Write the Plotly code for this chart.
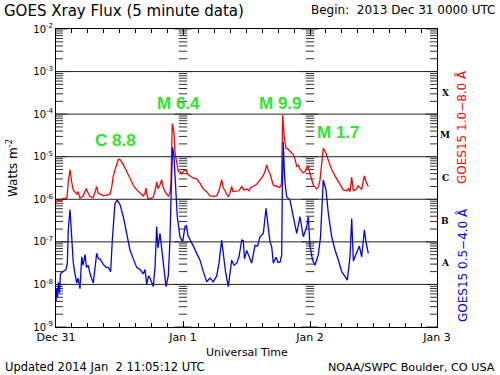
import numpy as np
import plotly.graph_objects as go

# ---- data (hours since 2013-12-31 00:00 UTC, log10 flux W m^-2) ----
long_hours = [0, 0.38, 0.94, 1.32, 1.70, 2.08, 2.32, 2.65, 2.97, 3.27, 3.91, 4.16, 4.54, 5.10, 5.67, 6.05,
              6.43, 7.05, 7.69, 7.94, 8.31, 8.94, 9.58, 10.2, 10.5, 10.83, 11.15, 11.47, 11.77, 12.09, 12.42,
              12.85, 13.36, 13.98, 14.31, 14.74, 15.25, 15.87, 16.50, 16.82, 17.0, 17.2, 17.44, 17.95, 18.39,
              18.71, 19.03, 19.27, 19.65, 19.97, 20.22, 20.60, 21.22, 21.54, 21.73, 21.86, 21.98, 22.11, 22.30,
              22.49, 22.77, 23.11, 23.43, 23.75, 24.19, 24.57, 24.94, 25.32, 25.89, 26.59, 27.21, 27.84, 28.48,
              29.10, 29.72, 30.37, 30.80, 31.31, 31.56, 31.94, 32.56, 32.88, 33.20, 33.45, 34.15, 34.58, 35.09,
              35.53, 36.04, 36.47, 36.85, 37.29, 37.80, 38.55, 39.12, 39.50, 39.82, 40.06, 40.44, 41.07, 41.71,
              42.33, 42.61, 42.71, 42.84, 42.99, 43.14, 43.46, 43.84, 44.22, 44.84, 45.16, 45.49, 45.83, 46.11,
              46.73, 47.06, 47.38, 47.68, 48.00, 48.63, 49.27, 49.61, 49.89, 50.21, 50.51, 50.74, 51.02, 51.46,
              51.78, 52.10, 52.72, 53.20, 53.67, 54.30, 54.94, 55.28, 55.56, 55.88, 56.19, 56.83, 57.07, 57.32,
              57.77, 58.02, 58.27, 58.58, 59.02]
long_log = [-6.07, -6.02, -6.05, -5.98, -5.99, -5.95, -5.6, -5.30, -5.6, -5.78, -5.88, -5.82, -5.97, -5.93, -5.75, -5.85,
            -5.94, -5.96, -5.70, -5.85, -5.88, -5.92, -5.90, -5.88, -5.74, -5.45, -5.31, -5.15, -5.06, -5.07, -5.12,
            -5.22, -5.35, -5.52, -5.62, -5.70, -5.78, -5.85, -5.92, -5.85, -5.74, -5.90, -6.0, -5.98, -5.95,
            -5.80, -5.59, -5.75, -5.66, -5.54, -5.70, -5.82, -5.93, -5.85, -5.62, -4.8, -4.22, -4.3, -4.45,
            -4.9, -5.15, -5.35, -5.35, -5.40, -5.33, -5.31, -5.42, -5.45, -5.50, -5.52, -5.62, -5.76, -5.82,
            -5.92, -5.93, -5.92, -5.80, -5.54, -5.72, -5.80, -5.94, -5.85, -5.70, -5.82, -5.81, -5.80, -5.70,
            -5.78, -5.76, -5.80, -5.72, -5.70, -5.66, -5.55, -5.45, -5.35, -5.19, -5.30, -5.40, -5.67, -5.70,
            -5.72, -5.65, -4.6, -4.02, -4.3, -4.55, -4.80, -4.82, -4.87, -4.95, -5.05, -5.23, -5.20, -5.30,
            -5.38, -5.35, -5.26, -5.22, -5.40, -5.67, -5.76, -5.70, -5.55, -5.1, -4.80, -4.85, -4.92, -5.08,
            -5.20, -5.30, -5.45, -5.55, -5.65, -5.78, -5.80, -5.75, -5.82, -5.48, -5.80, -5.76, -5.68, -5.72,
            -5.76, -5.62, -5.45, -5.58, -5.70]

short_hours = [0, 0.13, 0.28, 0.47, 0.66, 0.85, 1.13, 1.51, 1.89, 2.14, 2.32, 2.65, 2.83, 2.97, 3.27, 3.59, 3.91,
               4.16, 4.54, 4.86, 5.10, 5.48, 5.76, 6.10, 6.43, 7.05, 7.37, 7.69, 8.03, 8.31, 8.94, 9.45, 9.88,
               10.33, 10.64, 10.90, 11.15, 11.58, 12.09, 12.72, 13.36, 13.98, 14.61, 15.25, 15.87, 16.50, 16.82,
               17.14, 17.48, 17.76, 18.39, 18.71, 19.03, 19.27, 19.65, 19.93, 20.22, 20.79, 21.22, 21.54, 21.86,
               22.05, 22.30, 22.62, 22.92, 23.43, 23.94, 24.38, 24.66, 24.94, 25.32, 25.95, 26.59, 27.21, 27.84,
               28.48, 29.10, 29.72, 30.37, 30.80, 31.31, 31.65, 32.03, 32.56, 33.20, 33.64, 34.15, 34.58, 35.09,
               35.39, 35.62, 36.04, 36.47, 36.98, 37.61, 38.08, 38.55, 39.18, 39.69, 40.13, 40.44, 40.76, 41.07,
               41.58, 41.95, 42.33, 42.65, 42.76, 42.95, 43.14, 43.27, 43.59, 44.22, 44.84, 45.49, 46.11, 46.73,
               47.38, 47.68, 48.00, 48.47, 48.94, 49.57, 49.98, 50.21, 50.51, 51.02, 51.46, 52.10, 52.72, 53.35,
               53.99, 54.61, 55.05, 55.56, 55.88, 56.19, 56.83, 57.32, 57.77, 58.27, 58.58, 59.02]
short_log = [-8.4, -8.1, -8.3, -7.95, -8.2, -7.75, -7.72, -7.68, -7.65, -7.5, -6.72, -6.24, -6.6, -6.9, -7.50, -7.75, -7.97,
             -7.85, -8.10, -7.35, -7.55, -7.30, -7.6, -7.55, -7.75, -7.97, -7.6, -7.27, -7.40, -7.40, -7.53, -7.60, -7.60,
             -7.70, -6.96, -6.5, -6.09, -6.02, -6.12, -6.41, -6.80, -7.19, -7.40, -7.60, -7.65, -7.75, -7.65,
             -8.0, -7.80, -7.85, -8.05, -7.6, -6.64, -7.15, -6.80, -7.1, -7.5, -8.05, -7.80, -6.95, -5.39,
             -4.78, -5.0, -5.70, -6.41, -6.88, -7.00, -6.64, -6.62, -6.85, -6.96, -7.1, -7.27, -7.43, -7.70,
             -7.94, -7.85, -7.94, -7.80, -7.5, -6.96, -7.35, -7.7, -8.05, -7.43, -7.55, -7.50, -7.35, -6.96,
             -6.97, -7.4, -7.2, -7.35, -7.50, -7.08, -7.1, -6.88, -6.80, -6.21, -6.72, -7.0, -7.11, -7.50,
             -7.36, -7.48, -7.48, -7.31, -5.9, -4.65, -5.3, -5.6, -5.94, -6.02, -6.41, -6.80, -6.41, -6.88,
             -6.64, -6.41, -7.11, -7.42, -7.55, -7.30, -6.9, -6.17, -5.55, -5.78, -6.33, -6.88, -7.19, -7.42,
             -7.70, -7.81, -7.90, -7.35, -6.45, -7.45, -7.27, -7.10, -7.35, -6.72, -7.0, -7.27]

day_ticks = [0, 24, 48, 72]
day_labels = ["Dec 31", "Jan 1", "Jan 2", "Jan 3"]
decades = [-9, -8, -7, -6, -5, -4, -3, -2]
flare_classes = ["A", "B", "C", "M", "X"]
flare_labels = ["C 8.8", "M 6.4", "M 9.9", "M 1.7"]
flare_hours = [11.15, 23.2, 42.5, 53.4]
flare_label_log = [-4.61, -3.76, -3.76, -4.44]

FONT = "DejaVu Sans"
fig = go.Figure()

# log tick positions (decades labelled, 2..9 unlabelled)
minor_vals = []
for d in decades[:-1]:
    for m in range(2, 10):
        minor_vals.append(m * 10.0 ** d)
major_vals = [10.0 ** d for d in decades]

# tick marks: on both plot edges (clipped to inside) and dotted day markers at Jan 1 / Jan 2
for xpos, msize in [(day_ticks[0], 10), (day_ticks[-1], 10), (day_ticks[1], 6), (day_ticks[2], 6)]:
    fig.add_trace(go.Scatter(x=[xpos] * len(minor_vals), y=minor_vals, mode="markers",
                             marker=dict(symbol="line-ew", size=msize, line=dict(color="#333333", width=1)),
                             hoverinfo="skip", showlegend=False, cliponaxis=True))
    fig.add_trace(go.Scatter(x=[xpos] * len(major_vals), y=major_vals, mode="markers",
                             marker=dict(symbol="line-ew", size=msize + 6, line=dict(color="#333333", width=1)),
                             hoverinfo="skip", showlegend=False, cliponaxis=True))

fig.add_trace(go.Scatter(x=long_hours, y=10 ** np.array(long_log), mode="lines",
                         line=dict(color="#ff0000", width=1.3), showlegend=False))
fig.add_trace(go.Scatter(x=short_hours, y=10 ** np.array(short_log), mode="lines",
                         line=dict(color="#0000ff", width=1.3), showlegend=False))

fig.update_layout(
    width=500, height=375,
    margin=dict(l=56, r=63, t=29, b=48, autoexpand=False),
    paper_bgcolor="white", plot_bgcolor="white",
    font=dict(family=FONT, size=11, color="black"),
    showlegend=False,
)
fig.update_xaxes(
    range=[0, 72], tickmode="array", tickvals=day_ticks, ticktext=day_labels, automargin=False,
    ticks="inside", ticklen=6, tickcolor="black", showgrid=False, zeroline=False,
    showline=True, linecolor="black", linewidth=1, mirror="ticks",
    tickfont=dict(family=FONT, size=11),
    minor=dict(dtick=3, ticks="inside", ticklen=4, tickcolor="black", showgrid=False),
)
fig.update_yaxes(
    type="log", range=[-9, -2], tickmode="array", automargin=False,
    tickvals=major_vals, ticktext=["10<sup>%d</sup>" % d for d in decades],
    ticks="", showgrid=False, zeroline=False,
    showline=True, linecolor="black", linewidth=1, mirror=True,
    tickfont=dict(family=FONT, size=10),
)

# decade grid lines
for d in decades[1:-1]:
    fig.add_hline(y=10.0 ** d, line=dict(color="#222222", width=1))

ann = []
ann.append(dict(text="GOES Xray Flux (5 minute data)", xref="paper", yref="paper", x=-54/381, y=1 + 18/298,
                xanchor="left", yanchor="middle", showarrow=False, font=dict(size=15, family=FONT)))
ann.append(dict(text="Begin:  2013 Dec 31 0000 UTC", xref="paper", yref="paper", x=(497-56)/381, y=1 + 19/298,
                xanchor="right", yanchor="middle", showarrow=False, font=dict(size=12, family=FONT)))
ann.append(dict(text="Universal Time", xref="paper", yref="paper", x=0.5, y=-25/298,
                xanchor="center", yanchor="middle", showarrow=False, font=dict(size=11, family=FONT)))
ann.append(dict(text="Updated 2014 Jan  2 11:05:12 UTC", xref="paper", yref="paper", x=-53/381, y=-40/298,
                xanchor="left", yanchor="middle", showarrow=False, font=dict(size=11.5, family=FONT)))
ann.append(dict(text="NOAA/SWPC Boulder, CO USA", xref="paper", yref="paper", x=(497-56)/381, y=-40/298,
                xanchor="right", yanchor="middle", showarrow=False, font=dict(size=11.2, family=FONT)))
ann.append(dict(text="Watts m<sup>-2</sup>", xref="paper", yref="paper", x=-44/381, y=(327-168)/298,
                xanchor="center", yanchor="middle", textangle=-90, showarrow=False, font=dict(size=12, family=FONT)))
for i, c in enumerate(flare_classes):
    ann.append(dict(text="<b>%s</b>" % c, xref="paper", yref="y", x=(445-56)/381, y=decades[i + 1] + 0.5,
                    xanchor="center", yanchor="middle", showarrow=False,
                    font=dict(size=9, family="DejaVu Serif", color="black")))
ann.append(dict(text="GOES15 1.0\u22128.0 \u00c5", xref="paper", yref="paper", x=(462-56)/381, y=(327-127)/298,
                xanchor="center", yanchor="middle", textangle=-90, showarrow=False,
                font=dict(size=12, family=FONT, color="#ff0000")))
ann.append(dict(text="GOES15 0.5\u22124.0 \u00c5", xref="paper", yref="paper", x=(462-56)/381, y=(327-265)/298,
                xanchor="center", yanchor="middle", textangle=-90, showarrow=False,
                font=dict(size=12, family=FONT, color="#0000ff")))
for lbl, hx, ly in zip(flare_labels, flare_hours, flare_label_log):
    ann.append(dict(text="<b>%s</b>" % lbl, xref="x", yref="y", x=hx, y=ly,
                    xanchor="center", yanchor="middle", showarrow=False,
                    font=dict(size=17, family="Liberation Sans", color="#2ee52e")))
fig.update_layout(annotations=ann)

fig.write_html("out.html", config={"displayModeBar": False},
               post_script="document.body.style.margin='0px';")
